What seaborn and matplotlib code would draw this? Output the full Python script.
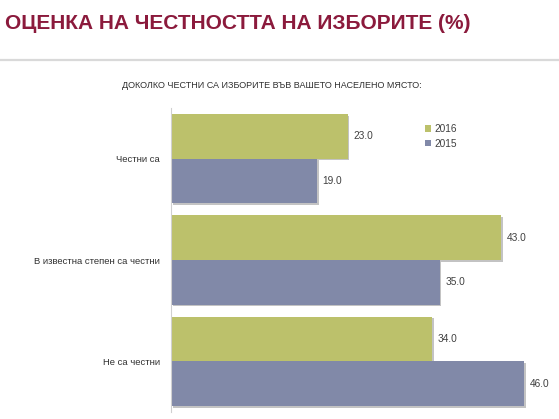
import matplotlib
matplotlib.use("Agg")
import matplotlib.pyplot as plt
import matplotlib.patheffects as pe
import seaborn as sns
import pandas as pd

categories = ["Честни са", "В известна степен са честни", "Не са честни"]
years = ["2016", "2015"]
values_2016 = [23.0, 43.0, 34.0]
values_2015 = [19.0, 35.0, 46.0]

title = "ОЦЕНКА НА ЧЕСТНОСТТА НА ИЗБОРИТЕ (%)"
subtitle = "ДОКОЛКО ЧЕСТНИ СА ИЗБОРИТЕ ВЪВ ВАШЕТО НАСЕЛЕНО МЯСТО:"

df = pd.DataFrame({
    "category": categories * 2,
    "year": [years[0]] * 3 + [years[1]] * 3,
    "value": values_2016 + values_2015,
})

sns.set_style("white")
plt.rcParams["font.family"] = ["Liberation Sans Narrow", "Liberation Sans", "DejaVu Sans"]

W, H = 559, 419
fig = plt.figure(figsize=(W / 100, H / 100), dpi=100)
ax = fig.add_axes([171 / W, 1 - 412 / H, 1 - 171 / W, (412 - 108) / H])

palette = {"2016": "#bcc16b", "2015": "#8189a8"}
sns.barplot(data=df, y="category", x="value", hue="year", hue_order=years,
            order=categories, palette=palette, width=0.88, gap=0,
            orient="h", ax=ax, saturation=1, edgecolor="none", legend=True)

handles, labels = ax.get_legend_handles_labels()

shadow = [pe.SimplePatchShadow(offset=(1.2, -1.2), shadow_rgbFace="#888888", alpha=0.5), pe.Normal()]
for c in ax.containers:
    for p in c:
        p.set_path_effects(shadow)

for c in ax.containers:
    ax.bar_label(c, fmt="%.1f", padding=4, fontsize=7.3, color="#404040")

ax.set_xlim(0, (W - 171) / 7.68)
ax.set_ylim(2.5, -0.5)
ax.set_xlabel("")
ax.set_ylabel("")
ax.set_xticks([])
for s in ["top", "right", "bottom"]:
    ax.spines[s].set_visible(False)
ax.spines["left"].set_color("#d0d0d0")
ax.spines["left"].set_linewidth(0.8)
ax.tick_params(axis="y", which="major", length=0, pad=8, labelsize=6.8, labelcolor="#303030")
ax.set_yticks([-0.5, 0.5, 1.5, 2.5], minor=True)
ax.tick_params(axis="y", which="minor", length=3, color="#d0d0d0", width=0.8)

ax.legend(handles, labels, loc="upper left", bbox_to_anchor=((420 - 171) / (W - 171), 1 - (119 - 108) / 304),
          frameon=False, fontsize=7.3, handlelength=0.6, handleheight=0.6, handletextpad=0.35,
          labelspacing=0.45, borderpad=0, labelcolor="#404040")

fig.text(5 / W, 1 - 29 / H, title, fontsize=15, fontweight="bold", color="#8b1a3c",
         family=["Liberation Sans", "DejaVu Sans"], ha="left", va="baseline")
fig.add_artist(plt.Line2D([0, 1], [1 - 60 / H, 1 - 60 / H], color="#d9d9d9", lw=1.6))
fig.text(272 / W, 1 - 85 / H, subtitle, fontsize=6.5, color="#303030", ha="center", va="center")

fig.savefig("out.png", dpi=100)
